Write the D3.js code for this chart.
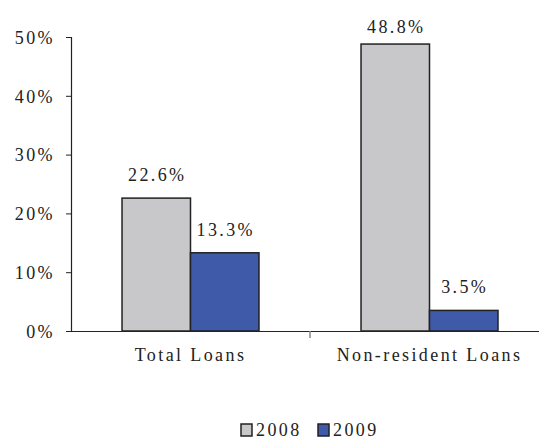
<!DOCTYPE html>
<html>
<head>
<meta charset="utf-8">
<script src="https://cdn.jsdelivr.net/npm/d3@7"></script>
<style>
  body { margin: 0; background: #fff; }
  svg { display: block; }
  svg text { font-family: 'Liberation Serif' !important; font-size: 18px !important; fill: #222; letter-spacing: 2.4px; }
</style>
</head>
<body>
<svg id="chart" width="539" height="440"></svg>
<script>
const categories = ["Total Loans", "Non-resident Loans"];
const seriesNames = ["2008", "2009"];
const values2008 = [0.226, 0.488];
const values2009 = [0.133, 0.035];
const yTicks = [0, 0.1, 0.2, 0.3, 0.4, 0.5];
const colors = ["#c8c8ca", "#3f5aa8"];

const svg = d3.select("#chart");
const margin = { top: 37, left: 71, bottom: 109 };
const height = 440 - margin.top - margin.bottom;

const data = categories.map((c, i) => ({ cat: c, vals: [values2008[i], values2009[i]] }));

const x0 = d3.scaleBand().domain(categories).range([margin.left, 549]).padding(0);
const x1 = d3.scaleBand().domain(seriesNames).range([0, x0.bandwidth()]).paddingInner(0).paddingOuter(0.745);
const y = d3.scaleLinear().domain([0, 0.5]).range([margin.top + height, margin.top]);

// y axis
const yAxis = svg.append("g")
    .attr("transform", "translate(" + margin.left + ",0)")
    .call(d3.axisLeft(y).tickValues(yTicks).tickFormat(d3.format(".0%")).tickSize(5).tickPadding(11));
yAxis.attr("font-family", null).attr("font-size", null);
yAxis.select(".domain").attr("stroke", "#222").attr("stroke-width", 1.2);
yAxis.selectAll(".tick line").attr("stroke", "#222");
yAxis.selectAll(".tick text").attr("dy", "0.35em");

// bars
const groups = svg.selectAll(".grp")
    .data(data)
    .enter().append("g")
    .attr("transform", d => "translate(" + x0(d.cat) + ",0)");

groups.selectAll("rect")
    .data(d => d.vals.map((v, j) => ({ s: seriesNames[j], v: v, j: j })))
    .enter().append("rect")
    .attr("x", d => x1(d.s))
    .attr("y", d => y(d.v))
    .attr("width", x1.bandwidth())
    .attr("height", d => y(0) - y(d.v))
    .attr("fill", d => colors[d.j])
    .attr("stroke", "#222")
    .attr("stroke-width", 1.5);

groups.selectAll(".lbl")
    .data(d => d.vals.map((v, j) => ({ s: seriesNames[j], v: v })))
    .enter().append("text")
    .attr("class", "lbl")
    .attr("text-anchor", "middle")
    .attr("x", d => x1(d.s) + x1.bandwidth() / 2 + 1)
    .attr("y", d => Math.max(y(d.v) - 17, 33))
    .text(d => d3.format(".1%")(d.v));

// x axis
const xAxis = svg.append("g")
    .attr("transform", "translate(0," + y(0) + ")")
    .call(d3.axisBottom(x0).tickSize(0).tickPadding(30));
xAxis.attr("font-family", null).attr("font-size", null);
xAxis.select(".domain").attr("stroke", "#222").attr("stroke-width", 1.2);
xAxis.selectAll(".tick text").attr("dy", "0");

// category separator ticks
xAxis.selectAll(".sep")
    .data(categories.slice(0, -1))
    .enter().append("line")
    .attr("x1", d => x0(d) + x0.bandwidth())
    .attr("x2", d => x0(d) + x0.bandwidth())
    .attr("y1", 0)
    .attr("y2", 7)
    .attr("stroke", "#888")
    .attr("stroke-width", 1.5);

// legend
const legend = svg.append("g").attr("transform", "translate(241,424)");
let lx = 0;
seriesNames.forEach((s, i) => {
    legend.append("rect")
        .attr("x", lx).attr("y", 0)
        .attr("width", 11).attr("height", 12)
        .attr("fill", colors[i])
        .attr("stroke", "#222").attr("stroke-width", 1.5);
    legend.append("text")
        .attr("x", lx + 15).attr("y", 12)
        .text(s);
    lx += 77;
});
</script>
</body>
</html>
